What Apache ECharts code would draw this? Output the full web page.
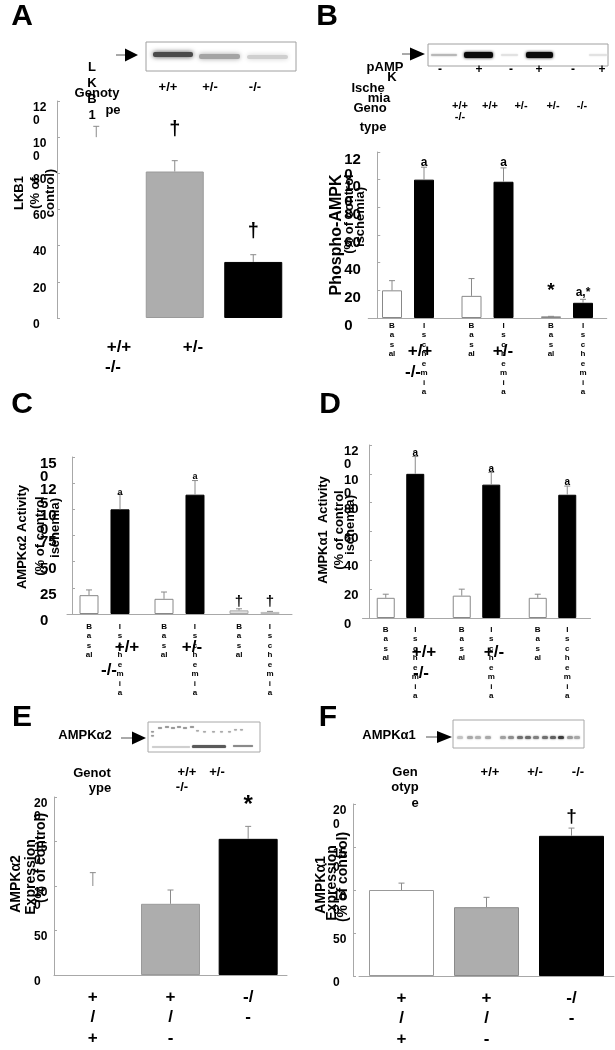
<!DOCTYPE html>
<html><head><meta charset="utf-8">
<script src="https://cdn.jsdelivr.net/npm/echarts@6/dist/echarts.min.js"></script>
<style>html,body{margin:0;padding:0;background:#fff}#main{width:615px;height:1050px}</style>
</head><body><div id="main"></div>
<script>
// ---------------- DATA ----------------
const genotypes = ['+/+', '+/-', '-/-'];
const conditions = ['Basal', 'Ischemia'];

// Panel A: LKB1 (% of control)
const lkb1Mean = [100, 81, 31];
const lkb1Sem  = [6, 6, 4];

// Panel B: Phospho-AMPK (% of control ischemia)
const pampkBasalMean = [20, 16, 1.2];
const pampkBasalSem  = [7, 12.5, 0];
const pampkIschMean  = [100, 98.5, 11];
const pampkIschSem   = [9, 10, 2.5];

// Panel C: AMPKα2 activity (% of control ischemia)
const a2ActBasalMean = [18, 14.5, 3.5];
const a2ActBasalSem  = [5, 6.5, 1.5];
const a2ActIschMean  = [100, 114, 2];
const a2ActIschSem   = [14.5, 13.5, 0.5];

// Panel D: AMPKα1 activity (% of control ischemia)
const a1ActBasalMean = [14, 15.5, 14];
const a1ActBasalSem  = [2.5, 4.5, 2.5];
const a1ActIschMean  = [100, 92.5, 85.5];
const a1ActIschSem   = [12, 8.5, 6];

// Panel E: AMPKα2 expression (% of control)
const a2ExprMean = [100, 80, 153];
const a2ExprSem  = [15, 15.5, 14];

// Panel F: AMPKα1 expression (% of control)
const a1ExprMean = [100, 80, 163];
const a1ExprSem  = [8, 11.5, 9];

// Significance marks: [condition index, genotype index, height (axis units), mark]
const marksA = [[0, 1, 104, '†'], [0, 2, 48, '†']];
const marksB = [[1, 0, 112, 'a'], [1, 1, 112, 'a'], [0, 2, 20, '*'], [1, 2, 18, 'a,*']];
const marksC = [[1, 0, 116.5, 'a'], [1, 1, 131, 'a'], [0, 2, 11.5, '†'], [1, 2, 11.5, '†']];
const marksD = [[1, 0, 114, 'a'], [1, 1, 103, 'a'], [1, 2, 94.5, 'a']];
const marksE = [[0, 2, 191, '*']];
const marksF = [[0, 2, 185, '†']];

// Y tick labels per panel
const ticksA = [0, 20, 40, 60, 80, 100, 120];
const ticksB = [0, 20, 40, 60, 80, 100, 120];
const ticksC = [0, 25, 50, 75, 100, 125, 150];
const ticksD = [0, 20, 40, 60, 80, 100, 120];
const ticksE = [0, 50, 100, 150, 200];
const ticksF = [0, 50, 100, 150, 200];

// ---------------- STYLE / LAYOUT ----------------
const FF = '"Liberation Sans", Arial, Helvetica, sans-serif';
const AX = '#a8a8a8';
const ERR = '#8a8a8a';

function wrapTick(v) { const s = String(v); return s.length > 2 ? s.slice(0, 2) + '\n' + s.slice(2) : s; }
function vert(s) { return s === 'Basal' ? 'B\na\ns\nal' : s.split('').join('\n'); }

const grids = [], xAxes = [], yAxes = [], series = [];

function addPanel(cfg) {
  const gi = grids.length;
  const ticks = cfg.ticks;
  grids.push({ left: cfg.left, top: cfg.top, width: cfg.width, height: cfg.height, containLabel: false });
  xAxes.push({
    type: 'category', gridIndex: gi, data: genotypes,
    axisLine: { show: cfg.xLine, lineStyle: { color: AX, width: 1 } },
    axisTick: { show: false },
    axisLabel: cfg.xLabel ? {
      show: true, interval: 0, margin: 12, fontSize: 17, fontWeight: 'bold', fontFamily: FF, color: '#000', lineHeight: 20.5,
      formatter: v => v.charAt(0) === '-' ? '-/\n-' : v.split('').join('\n')
    } : { show: false }
  });
  yAxes.push({
    type: 'value', gridIndex: gi, min: ticks[0], max: ticks[ticks.length - 1], interval: ticks[1] - ticks[0], offset: cfg.yOffset || 0,
    axisLine: { show: true, lineStyle: { color: AX, width: 1 } },
    axisTick: { show: true, inside: true, length: 3, lineStyle: { color: AX } },
    splitLine: { show: false },
    axisLabel: { show: false }
  });
  // tick labels placed with the y axis scale
  series.push({
    type: 'custom', xAxisIndex: gi, yAxisIndex: gi, z: 5, silent: true,
    data: ticks.map(t => [0, t]), encode: { x: 0, y: 1 },
    renderItem(params, api) {
      const v = api.value(1);
      const y = api.coord([0, v])[1];
      const x = params.coordSys.x - (cfg.yOffset || 0) - cfg.labMargin;
      return { type: 'text', x, y, style: {
        text: wrapTick(v), fontFamily: FF, fontWeight: 'bold', fontSize: cfg.labSize, lineHeight: cfg.labLH, fill: '#000',
        align: 'left', verticalAlign: 'top', textAlign: 'left', textVerticalAlign: 'top' } };
    }
  });
  return gi;
}

function errSeries(gi, means, sems, dx, cap) {
  return {
    type: 'custom', xAxisIndex: gi, yAxisIndex: gi, z: 3, silent: true,
    data: means.map((m, i) => [i, m, m + sems[i]]),
    encode: { x: 0, y: [1, 2] },
    renderItem(params, api) {
      const p0 = api.coord([api.value(0), api.value(1)]);
      const p1 = api.coord([api.value(0), api.value(2)]);
      const x = p0[0] + dx;
      return { type: 'group', children: [
        { type: 'line', shape: { x1: x, y1: p0[1], x2: x, y2: p1[1] }, style: { stroke: ERR, lineWidth: 1 } },
        { type: 'line', shape: { x1: x - cap, y1: p1[1], x2: x + cap, y2: p1[1] }, style: { stroke: ERR, lineWidth: 1 } }
      ] };
    }
  };
}

function markSeries(gi, marks, offsets, size) {
  return {
    type: 'custom', xAxisIndex: gi, yAxisIndex: gi, z: 4, silent: true,
    data: marks.map(m => [m[1], m[2]]),
    encode: { x: 0, y: 1 },
    renderItem(params, api) {
      const m = marks[params.dataIndex];
      const p = api.coord([api.value(0), api.value(1)]);
      const big = m[3] === '*' || m[3] === '†';
      return { type: 'text', x: p[0] + offsets[m[0]], y: p[1], style: {
        text: m[3], fontFamily: FF, fontWeight: 'bold', fontSize: big ? size[1] : size[0], fill: '#000',
        align: 'center', verticalAlign: 'middle', textAlign: 'center', textVerticalAlign: 'middle' } };
    }
  };
}

function singleBars(gi, means, colors, borders, bw) {
  return {
    type: 'bar', xAxisIndex: gi, yAxisIndex: gi, barWidth: bw, z: 2,
    data: means.map((v, i) => ({ value: v, itemStyle: { color: colors[i], borderColor: borders[i] || 'transparent', borderWidth: borders[i] ? 1 : 0 } }))
  };
}

function pairBars(gi, name, means, colors, borders, bw, gap, lblDist) {
  return {
    type: 'bar', name, xAxisIndex: gi, yAxisIndex: gi, barWidth: bw, barGap: gap, z: 2,
    data: means.map((v, i) => ({ value: v, itemStyle: { color: colors[i], borderColor: borders[i], borderWidth: 1 } })),
    label: { show: true, position: 'bottom', distance: lblDist, formatter: () => vert(name),
      fontSize: 8, lineHeight: 9.5, fontWeight: 'bold', fontFamily: FF, color: '#000' }
  };
}

// ----- Panel A
let g = addPanel({ left: 57, top: 101, width: 235.5, height: 217, ticks: ticksA, xLine: false, labMargin: 24, labSize: 12, labLH: 13 });
series.push(singleBars(g, lkb1Mean, ['#ffffff', '#adadad', '#000000'], [null, '#9a9a9a', '#000'], 58));
series.push(errSeries(g, lkb1Mean, lkb1Sem, 0, 3));
series.push(markSeries(g, marksA, [0, 0], [12, 20]));

// ----- Panel B
g = addPanel({ left: 368.25, top: 152, width: 238.5, height: 166, ticks: ticksB, xLine: true, yOffset: -9, labMargin: 33, labSize: 15, labLH: 15 });
series.push(pairBars(g, conditions[0], pampkBasalMean, ['#fff', '#fff', '#fff'], ['#888', '#888', '#888'], 20, '60%', 3));
series.push(pairBars(g, conditions[1], pampkIschMean, ['#000', '#000', '#000'], ['#000', '#000', '#000'], 20, '60%', 3));
series.push(errSeries(g, pampkBasalMean, pampkBasalSem, -16, 3));
series.push(errSeries(g, pampkIschMean, pampkIschSem, 16, 3));
series.push(markSeries(g, marksB, [-16, 16], [12, 19]));

// ----- Panel C
g = addPanel({ left: 67, top: 457, width: 225, height: 157, ticks: ticksC, xLine: true, yOffset: -5, labMargin: 32, labSize: 15, labLH: 13.5 });
series.push(pairBars(g, conditions[0], a2ActBasalMean, ['#fff', '#fff', '#dedede'], ['#888', '#888', '#aaa'], 19, '63%', 8));
series.push(pairBars(g, conditions[1], a2ActIschMean, ['#000', '#000', '#d0d0d0'], ['#000', '#000', '#bbb'], 19, '63%', 8));
series.push(errSeries(g, a2ActBasalMean, a2ActBasalSem, -15.5, 3));
series.push(errSeries(g, a2ActIschMean, a2ActIschSem, 15.5, 3));
series.push(markSeries(g, marksC, [-15.5, 15.5], [9, 15]));

// ----- Panel D
g = addPanel({ left: 362.5, top: 445, width: 228, height: 173, ticks: ticksD, xLine: true, yOffset: -6.5, labMargin: 25, labSize: 13, labLH: 13 });
series.push(pairBars(g, conditions[0], a1ActBasalMean, ['#fff', '#fff', '#fff'], ['#888', '#888', '#888'], 18, '64%', 7));
series.push(pairBars(g, conditions[1], a1ActIschMean, ['#000', '#000', '#000'], ['#000', '#000', '#000'], 18, '64%', 7));
series.push(errSeries(g, a1ActBasalMean, a1ActBasalSem, -14.75, 3));
series.push(errSeries(g, a1ActIschMean, a1ActIschSem, 14.75, 3));
series.push(markSeries(g, marksD, [-14.75, 14.75], [10, 15]));

// ----- Panel E
g = addPanel({ left: 54, top: 797, width: 233, height: 178, ticks: ticksE, xLine: true, xLabel: true, labMargin: 20, labSize: 12, labLH: 13 });
series.push(singleBars(g, a2ExprMean, ['#ffffff', '#adadad', '#000000'], [null, '#9a9a9a', '#000'], 59));
series.push(errSeries(g, a2ExprMean, a2ExprSem, 0, 3));
series.push(markSeries(g, marksE, [0, 0], [12, 24]));

// ----- Panel F
g = addPanel({ left: 359, top: 804, width: 255, height: 172, ticks: ticksF, xLine: true, xLabel: true, yOffset: 6, labMargin: 20, labSize: 12, labLH: 14 });
series.push(singleBars(g, a1ExprMean, ['#ffffff', '#adadad', '#000000'], ['#999', '#8a8a8a', '#000'], 65));
series.push(errSeries(g, a1ExprMean, a1ExprSem, 0, 3));
series.push(markSeries(g, marksF, [0, 0], [12, 19]));

// ---------------- GRAPHIC (panel letters, titles, blots) ----------------
const gr = [];
function T(x, y, text, size, lh, rot) {
  gr.push({ type: 'text', x, y, rotation: rot || 0, z: 10, style: {
    text, fontFamily: FF, fontWeight: 'bold', fontSize: size, lineHeight: lh || size + 2, fill: '#000',
    align: 'center', verticalAlign: 'middle', textAlign: 'center', textVerticalAlign: 'middle' } });
}
function R(x, y, w, h, fill, stroke, blur) {
  gr.push({ type: 'rect', z: 9, shape: { x, y, width: w, height: h, r: stroke ? 0 : Math.min(h / 2, 2) },
    style: stroke ? { fill, stroke, lineWidth: 1 } : { fill, shadowBlur: blur || 2, shadowColor: fill } });
}
function arrow(x0, x1, x2, y, h) {
  gr.push({ type: 'line', z: 9, shape: { x1: x0, y1: y, x2: x1, y2: y }, style: { stroke: '#555', lineWidth: 1 } });
  gr.push({ type: 'polygon', z: 9, shape: { points: [[x1, y - h / 2], [x2, y], [x1, y + h / 2]] }, style: { fill: '#000' } });
}
const V = Math.PI / 2;

// Panel letters
T(22, 17, 'A', 30); T(327, 17, 'B', 30); T(22, 405, 'C', 30); T(330, 405, 'D', 30); T(22, 718, 'E', 30); T(328, 718, 'F', 30);

// A header
arrow(116, 125, 138, 55, 13);
R(146, 42, 150, 29, '#fff', '#a0a0a0');
R(153, 52, 40, 5, '#4a4a4a', null, 5); R(199, 54, 41, 5, '#a4a4a4', null, 5); R(247, 55, 41, 4, '#cfcfcf', null, 5);
T(168, 87, '+/+', 13); T(210, 87, '+/-', 13); T(255, 87, '-/-', 13);
T(92, 91, 'L\nK\nB\n1', 13, 16);
T(97, 93, 'Genoty', 13); T(113, 110, 'pe', 13);
T(35, 193, 'LKB1\n(% of\ncontrol)', 13, 15.5, V);
T(119, 347, '+/+', 17); T(193, 347, '+/-', 17); T(113, 367, '-/-', 17);

// B header
arrow(402, 410, 425, 54, 13);
R(428, 44, 180, 22, '#fff', '#a0a0a0');
R(431, 54, 26, 2, '#b8b8b8', null, 2); R(464, 52, 29, 6, '#0a0a0a', null, 3); R(501, 54, 17, 2, '#e2e2e2', null, 2);
R(526, 52, 27, 6, '#0a0a0a', null, 3); R(589, 54, 18, 2, '#e2e2e2', null, 2);
[['-', 440], ['+', 479], ['-', 511], ['+', 539], ['-', 573], ['+', 602]].forEach(a => T(a[1], 70, a[0], 12));
T(385, 67, 'pAMP', 13); T(392, 77, 'K', 13); T(368, 88, 'Ische', 13); T(379, 98, 'mia', 13);
T(370, 108, 'Geno', 13); T(373, 127, 'type', 13);
[['+/+', 460], ['+/+', 490], ['+/-', 521], ['+/-', 553], ['-/-', 582]].forEach(a => T(a[1], 106, a[0], 11));
T(460, 117, '-/-', 11);
T(337, 235, 'Phospho-AMPK', 16, 18, V); T(349, 214, '(% of control', 13, 15, V); T(360, 217, 'ischemia)', 13, 15, V);
T(420, 351, '+/+', 17); T(503, 351, '+/-', 17); T(413, 372, '-/-', 17);

// C
T(22, 537, 'AMPKα2 Activity', 13, 15, V); T(40, 536, '(% of control', 13, 15, V); T(55, 528, 'ischemia)', 13, 15, V);
T(127, 647, '+/+', 17); T(192, 647, '+/-', 17); T(109, 670, '-/-', 17);

// D
T(323, 530, 'AMPKα1  Activity', 13, 15, V); T(339, 530, '(% of control', 13, 15, V); T(350, 525, 'ischemia)', 13, 15, V);
T(424, 652, '+/+', 17); T(494, 652, '+/-', 17); T(421, 673, '-/-', 17);

// E header
T(85, 735, 'AMPKα2', 13);
arrow(121, 132, 146, 738, 13);
R(148, 722, 112, 30, '#fff', '#a8a8a8');
[[158, 727], [165, 726], [171, 727], [177, 726], [183, 727], [190, 726]].forEach(p => R(p[0], p[1], 4, 2, '#9a9a9a', null, 1));
[[196, 730], [203, 731], [212, 731], [220, 731], [228, 731], [234, 729], [240, 729]].forEach(p => R(p[0], p[1], 3, 1.5, '#aaa', null, 1));
R(151, 731, 3, 1.5, '#999', null, 1); R(151, 735, 3, 1.5, '#999', null, 1);
R(152, 746, 38, 2, '#cfcfcf', null, 1); R(192, 745, 34, 3, '#5a5a5a', null, 1); R(233, 745, 20, 2, '#8a8a8a', null, 1);
T(92, 773, 'Genot', 13); T(100, 788, 'ype', 13);
T(187, 772, '+/+', 13); T(217, 772, '+/-', 13); T(182, 787, '-/-', 13);
T(16, 884, 'AMPKα2', 14, 16, V); T(31, 877, 'Expression', 14, 16, V); T(41, 858, '(% of control)', 14, 16, V);

// F header
T(389, 735, 'AMPKα1', 13);
arrow(426, 437, 452, 737, 12);
R(453, 720, 131, 28, '#fff', '#a8a8a8');
[[457, '#c4c4c4'], [467, '#a8a8a8'], [475, '#b0b0b0'], [485, '#a8a8a8'], [500, '#a0a0a0'], [508, '#8e8e8e'],
 [517, '#707070'], [525, '#6a6a6a'], [533, '#808080'], [542, '#707070'], [550, '#606060'], [558, '#3c3c3c'],
 [567, '#9a9a9a'], [574, '#a8a8a8']].forEach(b => R(b[0], 736, 6, 3, b[1], null, 2));
T(405, 772, 'Gen', 13); T(405, 787, 'otyp', 13); T(415, 803, 'e', 13);
T(490, 772, '+/+', 13); T(535, 772, '+/-', 13); T(578, 772, '-/-', 13);
T(321, 885, 'AMPKα1', 14, 16, V); T(332, 883, 'Expression', 14, 16, V); T(343, 877, '(% of control)', 14, 16, V);

const chart = echarts.init(document.getElementById('main'), null, { renderer: 'canvas' });
chart.setOption({
  backgroundColor: '#fff', animation: false,
  textStyle: { fontFamily: FF },
  grid: grids, xAxis: xAxes, yAxis: yAxes, series, graphic: gr
});
</script></body></html>
